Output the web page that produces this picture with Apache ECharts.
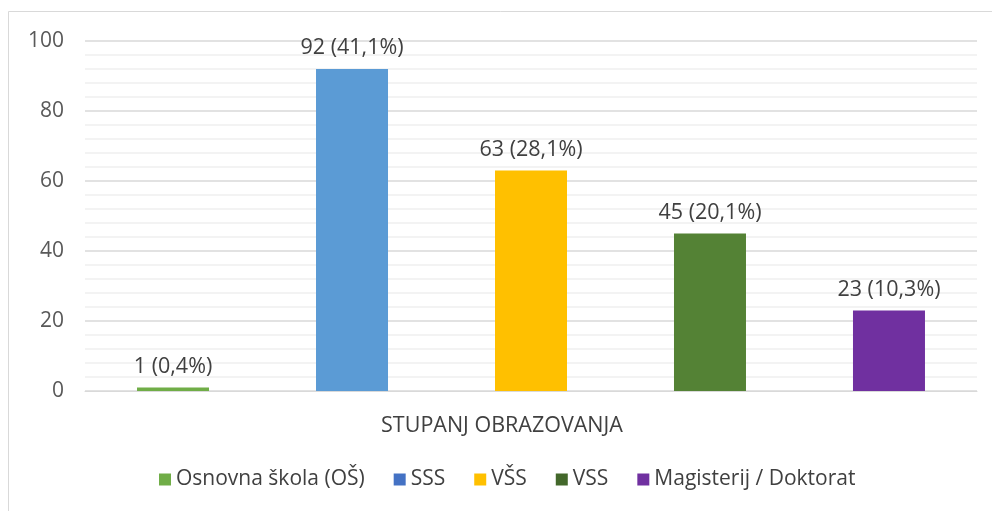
<!DOCTYPE html>
<html style="height: 100%">
<head>
<meta charset="utf-8">
</head>
<body style="height: 100%; margin: 0; background: #fff">
	<div id="container" style="width: 992px; height: 511px"></div>
	<script type="text/javascript" src="https://cdn.jsdelivr.net/npm/echarts@6/dist/echarts.min.js"></script>
	<script type="text/javascript">
		var category = [ 'STUPANJ OBRAZOVANJA' ];
		var seriesNames = [ 'Osnovna škola (OŠ)', 'SSS', 'VŠS', 'VSS', 'Magisterij / Doktorat' ];
		var seriesValues = [ 1, 92, 63, 45, 23 ];
		var seriesPercents = [ '0,4%', '41,1%', '28,1%', '20,1%', '10,3%' ];
		var barColors = [ '#70ad47', '#5b9bd5', '#ffc000', '#548235', '#7030a0' ];
		var legendColors = [ '#70ad47', '#4472c4', '#ffc000', '#43682b', '#7030a0' ];
		var yTicks = [ 0, 20, 40, 60, 80, 100 ];

		var font = 'Open Sans';
		var dom = document.getElementById("container");
		var myChart = echarts.init(dom);

		var series = seriesNames.map(function(name, i) {
			return {
				name : name,
				type : 'bar',
				barWidth : 72,
				barGap : '148.6%',
				itemStyle : {
					color : barColors[i]
				},
				label : {
					show : true,
					position : 'top',
					distance : 10,
					color : '#404040',
					fontFamily : font,
					fontSize : 21.5,
					formatter : function() {
						return seriesValues[i] + ' (' + seriesPercents[i] + ')';
					}
				},
				data : [ seriesValues[i] ]
			};
		});

		var option = {
			animation : false,
			backgroundColor : '#fff',
			graphic : [ {
				type : 'rect',
				shape : { x : 8.5, y : 11.5, width : 1100, height : 600 },
				style : { fill : 'none', stroke : '#d9d9d9', lineWidth : 1 },
				silent : true
			} ],
			legend : {
				bottom : 16,
				left : 154,
				itemWidth : 12,
				itemHeight : 12,
				itemGap : 29,
				icon : 'rect',
				textStyle : {
					color : '#404040',
					fontFamily : font,
					fontSize : 21
				},
				data : seriesNames.map(function(n, i) {
					return { name : n, itemStyle : { color : legendColors[i] } };
				})
			},
			grid : {
				left : 85,
				right : 15,
				top : 41,
				bottom : 120,
				containLabel : false
			},
			xAxis : {
				type : 'category',
				data : category,
				axisTick : { show : false },
				axisLine : { show : true, lineStyle : { color : '#d9d9d9', width : 1 } },
				axisLabel : {
					color : '#404040',
					fontFamily : font,
					fontSize : 21.5,
					margin : 24,
					padding : [ 0, 58, 0, 0 ]
				}
			},
			yAxis : {
				type : 'value',
				min : yTicks[0],
				max : yTicks[yTicks.length - 1],
				interval : 20,
				axisLine : { show : false },
				axisTick : { show : false },
				axisLabel : {
					color : '#595959',
					fontFamily : font,
					fontSize : 21,
					margin : 21
				},
				splitLine : { lineStyle : { color : '#d9d9d9', width : 1.5 } },
				minorTick : { show : false, splitNumber : 5 },
				minorSplitLine : { show : true, lineStyle : { color : '#f0f0f0', width : 1.5 } }
			},
			series : series
		};
		myChart.setOption(option);
	</script>
</body>
</html>
